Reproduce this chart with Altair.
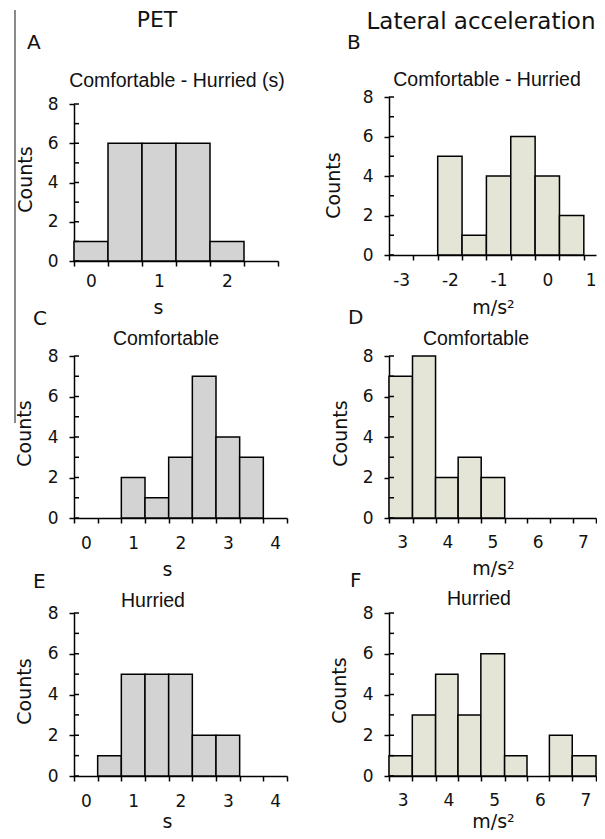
import altair as alt
import pandas as pd

# ---------------- data ----------------
headers = ["PET", "Lateral acceleration"]
letters = ["A", "B", "C", "D", "E", "F"]
titles = ["Comfortable - Hurried (s)", "Comfortable - Hurried", "Comfortable",
          "Comfortable", "Hurried", "Hurried"]
x_titles = ["s", "m/s²", "s", "m/s²", "s", "m/s²"]
y_title = "Counts"

edges_A = [-0.25, 0.25, 0.75, 1.25, 1.75, 2.25, 2.75]
counts_A = [1, 6, 6, 6, 1, 0]
ticks_A = [0, 1, 2]

edges_B = [-3.25, -2.75, -2.25, -1.75, -1.25, -0.75, -0.25, 0.25, 0.75]
counts_B = [0, 0, 5, 1, 4, 6, 4, 2]
ticks_B = [-3, -2, -1, 0, 1]
domain_B = [-3.25, 1.0]

edges_C = [-0.25, 0.25, 0.75, 1.25, 1.75, 2.25, 2.75, 3.25, 3.75, 4.25]
counts_C = [0, 0, 2, 1, 3, 7, 4, 3, 0]
ticks_C = [0, 1, 2, 3, 4]

edges_D = [2.71, 3.23, 3.74, 4.24, 4.75, 5.27, 5.77, 6.28, 6.78, 7.29]
counts_D = [7, 8, 2, 3, 2, 0, 0, 0, 0]
ticks_D = [3, 4, 5, 6, 7]

edges_E = [-0.25, 0.25, 0.75, 1.25, 1.75, 2.25, 2.75, 3.25, 3.75, 4.25]
counts_E = [0, 1, 5, 5, 5, 2, 2, 0, 0]
ticks_E = [0, 1, 2, 3, 4]

edges_F = [2.70, 3.21, 3.72, 4.21, 4.71, 5.23, 5.72, 6.21, 6.71, 7.23]
counts_F = [1, 3, 5, 3, 6, 1, 0, 2, 1]
ticks_F = [3, 4, 5, 6, 7]

count_ticks = [0, 2, 4, 6, 8]
count_minor = [0, 1, 2, 3, 4, 5, 6, 7, 8]

# ---------------- styling / layout ----------------
GRAY = "#d3d3d3"
BEIGE = "#e4e5d7"
TXT = "#111111"
SANS = "DejaVu Sans"
ARIAL = "Liberation Sans"
INNER_TICK_PX = 5

layouts = [
    dict(w=204, h=157, yr=None, lp=7, tx=84, ty=46, cx=-49, cy=75,
         lx=-47, ly=-61, ttx=103, tty=-23, flush=False),
    dict(w=207, h=151, yr=[151, -7], lp=12, tx=104, ty=52, cx=-56, cy=81,
         lx=-42, ly=-61, ttx=98, tty=-24, flush=True),
    dict(w=213, h=162, yr=None, lp=12, tx=93, ty=51, cx=-50, cy=77,
         lx=-41, ly=-37, ttx=92, tty=-17, flush=False),
    dict(w=207, h=162, yr=None, lp=11, tx=104, ty=50, cx=-49, cy=77,
         lx=-41, ly=-38, ttx=87, tty=-17, flush=False),
    dict(w=213, h=163, yr=None, lp=12, tx=93, ty=45, cx=-50, cy=78,
         lx=-41, ly=-31, ttx=79, tty=-12, flush=False),
    dict(w=207, h=163, yr=None, lp=11, tx=104, ty=45, cx=-50, cy=77,
         lx=-39, ly=-32, ttx=90, tty=-14, flush=False),
]


def txt(s, x, y, font, size, align="center"):
    return alt.Chart(pd.DataFrame({"t": [s]})).mark_text(
        font=font, fontSize=size, align=align, baseline="middle", color=TXT
    ).encode(text="t:N", x=alt.value(x), y=alt.value(y))


def frame(x, y, y2):
    # invisible marker fixing the outer extent of the drawing
    return alt.Chart(pd.DataFrame({"t": [0]})).mark_rule(opacity=0, strokeWidth=1).encode(
        x=alt.value(x), y=alt.value(y), y2=alt.value(y2))


def panel(i, edges, counts, xticks, fill, domain=None, extra=()):
    L = layouts[i]
    dom = domain if domain is not None else [edges[0], edges[-1]]
    df = pd.DataFrame({"left": edges[:-1], "right": edges[1:], "count": counts})
    xvals = sorted(set(edges) | set(xticks))
    xscale = alt.Scale(domain=dom, nice=False, zero=False)
    if L["yr"] is not None:
        yscale = alt.Scale(domain=[0, 8], nice=False, range=L["yr"])
    else:
        yscale = alt.Scale(domain=[0, 8], nice=False)
    xaxis = alt.Axis(
        values=xvals,
        labelExpr="datum.value % 1 === 0 ? '' + datum.value : ''",
        tickOpacity={"condition": {"test": "datum.value % 1 === 0", "value": 0}, "value": 1},
        tickSize=5, labelPadding=L["lp"], labelFlush=L["flush"], labelOverlap=False,
        title=x_titles[i], titleX=L["tx"], titleY=L["ty"],
        titleBaseline="middle", titleAlign="center", grid=False,
    )
    yaxis = alt.Axis(
        values=count_ticks, tickSize=5, labelPadding=11, grid=False, labelOverlap=False,
        title=y_title, titleX=L["cx"], titleY=L["cy"], titleAngle=270,
        titleBaseline="middle", titleAlign="center",
    )
    bars = alt.Chart(df).transform_filter("datum.count > 0").mark_bar(
        fill=fill, stroke="black", strokeWidth=1.5
    ).encode(
        x=alt.X("left:Q", scale=xscale, axis=xaxis),
        x2="right:Q",
        y=alt.Y("count:Q", scale=yscale, axis=yaxis),
        y2=alt.datum(0),
    )
    tick_len = INNER_TICK_PX * (dom[1] - dom[0]) / L["w"]
    minor = alt.Chart(pd.DataFrame({"count": count_minor})).mark_rule(
        color="black", strokeWidth=1.5
    ).encode(
        y=alt.Y("count:Q", scale=yscale, axis=yaxis),
        x=alt.X(datum=dom[0], type="quantitative", scale=xscale, axis=xaxis),
        x2=alt.X2(datum=dom[0] + tick_len),
    )
    layers = [bars, minor,
              txt(letters[i], L["lx"], L["ly"], SANS, 20, "left"),
              txt(titles[i], L["ttx"], L["tty"], ARIAL, 19.5)]
    layers += list(extra)
    return alt.layer(*layers).properties(width=L["w"], height=L["h"])


border = alt.Chart(pd.DataFrame({"t": [0]})).mark_rule(color="#8a8a8a", strokeWidth=2).encode(
    x=alt.value(-59), y=alt.value(-94), y2=alt.value(319))

pA = panel(0, edges_A, counts_A, ticks_A, GRAY,
           extra=[txt(headers[0], 83, -84, SANS, 22), border, frame(-66, -96, -90)])
pB = panel(1, edges_B, counts_B, ticks_B, BEIGE, domain=domain_B,
           extra=[txt(headers[1], 92, -82, SANS, 23)])
pC = panel(2, edges_C, counts_C, ticks_C, GRAY)
pD = panel(3, edges_D, counts_D, ticks_D, BEIGE)
pE = panel(4, edges_E, counts_E, ticks_E, GRAY)
pF = panel(5, edges_F, counts_F, ticks_F, BEIGE, extra=[frame(207.5, 150, 217)])

chart = alt.concat(
    pA, pB, pC, pD, pE, pF, columns=2,
    spacing={"row": 95, "column": 102}, bounds="flush", align="each",
).properties(
    padding={"left": 0, "top": 0, "right": 0, "bottom": 0}
).configure_view(stroke=None).configure_axis(
    domainColor="black", domainWidth=1.5, tickColor="black", tickWidth=1.5,
    labelColor=TXT, labelFont=SANS, labelFontSize=17,
    titleColor=TXT, titleFont=SANS, titleFontSize=19, titleFontWeight="normal",
)

chart.save("out.html", embed_options={"renderer": "svg", "actions": False})
